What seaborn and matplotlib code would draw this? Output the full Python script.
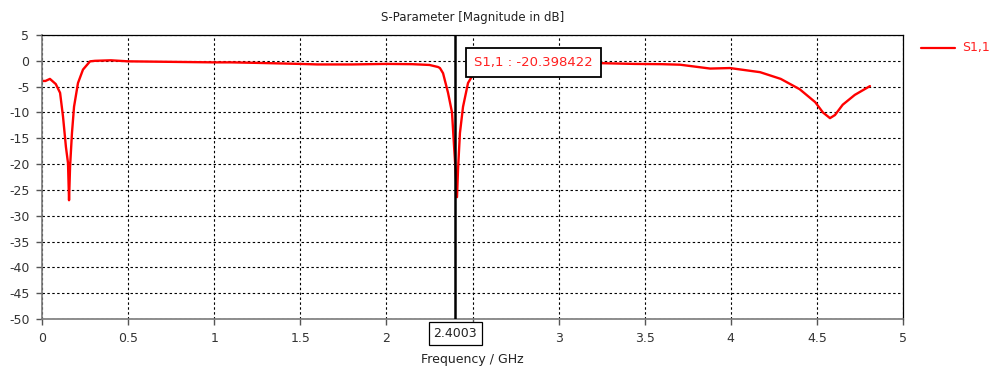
import matplotlib
matplotlib.use("Agg")
import matplotlib.pyplot as plt
import seaborn as sns
import pandas as pd

# S11 magnitude response (GHz, dB)
freq_ghz = [0.0, 0.02, 0.046, 0.08, 0.105, 0.122, 0.139, 0.151, 0.157, 0.163,
            0.174, 0.186, 0.209, 0.238, 0.279, 0.308, 0.4, 0.5, 0.75, 1.0,
            1.1, 1.25, 1.5, 1.6, 1.8, 2.0, 2.15, 2.25, 2.30, 2.311,
            2.329, 2.358, 2.381, 2.393, 2.4003, 2.410, 2.416, 2.427, 2.445, 2.474,
            2.497, 2.53, 2.6, 2.75, 3.0, 3.24, 3.44, 3.6, 3.705, 3.88,
            3.995, 4.17, 4.29, 4.40, 4.49, 4.535, 4.576, 4.605, 4.65, 4.72,
            4.808]
s11_db = [-3.9, -3.9, -3.5, -4.5, -6.2, -10.8, -16.7, -19.8, -27.0, -20.5,
          -14.0, -8.9, -4.3, -1.7, -0.1, 0.0, 0.1, -0.1, -0.2, -0.3,
          -0.3, -0.4, -0.6, -0.7, -0.7, -0.6, -0.65, -0.8, -1.2, -1.4,
          -2.4, -6.2, -10.0, -16.6, -20.398422, -26.4, -21.0, -14.0, -8.9, -4.3,
          -3.0, -1.8, -0.9, -0.5, -0.4, -0.45, -0.6, -0.65, -0.75, -1.5,
          -1.4, -2.2, -3.5, -5.5, -8.0, -10.0, -11.1, -10.5, -8.5, -6.6,
          -4.9]

marker_freq = 2.4003
marker_value = -20.398422
series_name = "S1,1"

x_ticks = [0, 0.5, 1, 1.5, 2, 2.5, 3, 3.5, 4, 4.5, 5]
x_tick_labels = ["0", "0.5", "1", "1.5", "2", "", "3", "3.5", "4", "4.5", "5"]
y_ticks = list(range(-50, 6, 5))

df = pd.DataFrame({"Frequency": freq_ghz, "dB": s11_db, "Series": series_name})

sns.set_style("white")
plt.rcParams["font.family"] = ["DejaVu Sans"]

fig = plt.figure(figsize=(9.95, 3.70), dpi=100)
ax = fig.add_axes([42 / 995, 51 / 370, 861 / 995, 284 / 370])

sns.lineplot(data=df, x="Frequency", y="dB", hue="Series", palette=["#ff0000"],
             linewidth=1.7, ax=ax, legend=False, sort=False)

ax.set_xlim(0, 5)
ax.set_ylim(-50, 5)
ax.set_xticks(x_ticks)
ax.set_xticklabels(x_tick_labels)
ax.set_yticks(y_ticks)
ax.set_yticklabels([str(v) for v in y_ticks])

ax.grid(True, color="black", linestyle=(0, (2.2, 2.2)), linewidth=0.8)
ax.set_axisbelow(True)

for side in ["top", "right"]:
    ax.spines[side].set_color("black")
    ax.spines[side].set_linewidth(0.9)
for side in ["left", "bottom"]:
    ax.spines[side].set_color("#7a7a7a")
    ax.spines[side].set_linewidth(1.2)

ax.tick_params(axis="both", direction="out", length=4, width=1, color="#555555",
               labelsize=9, labelcolor="#333333", pad=5, left=True, bottom=True)

ax.set_xlabel("Frequency / GHz", fontsize=9, color="#222222", labelpad=6)
ax.set_ylabel("")
ax.set_title("S-Parameter [Magnitude in dB]", fontsize=8.5, color="#222222", pad=10)

# Marker line and its frequency readout under the axis
ax.axvline(marker_freq, color="black", linewidth=1.8, zorder=4)
ax.annotate(f"{marker_freq:.4f}", xy=(marker_freq, 0),
            xycoords=("data", "axes fraction"), xytext=(0, -10.2),
            textcoords="offset points", ha="center", va="center",
            fontsize=9, color="#222222", annotation_clip=False,
            bbox=dict(boxstyle="square,pad=0.4", facecolor="white",
                      edgecolor="black", linewidth=0.9),
            zorder=6)

# Value readout box at the marker
ax.text(2.510, -0.3, f"{series_name} : {marker_value:.6f}",
        ha="left", va="center", fontsize=9.5, color="#ff2020",
        bbox=dict(boxstyle="square,pad=0.6", facecolor="white",
                  edgecolor="black", linewidth=1.3),
        zorder=6)

# Legend entry outside the plot
fig.add_artist(plt.Line2D([921 / 995, 955 / 995], [1 - 48 / 370, 1 - 48 / 370],
                          color="#ff0000", linewidth=1.6))
fig.text(962 / 995, 1 - 48 / 370, series_name, color="#ff2020", fontsize=9,
         ha="left", va="center")

fig.savefig("out.png", dpi=100)
